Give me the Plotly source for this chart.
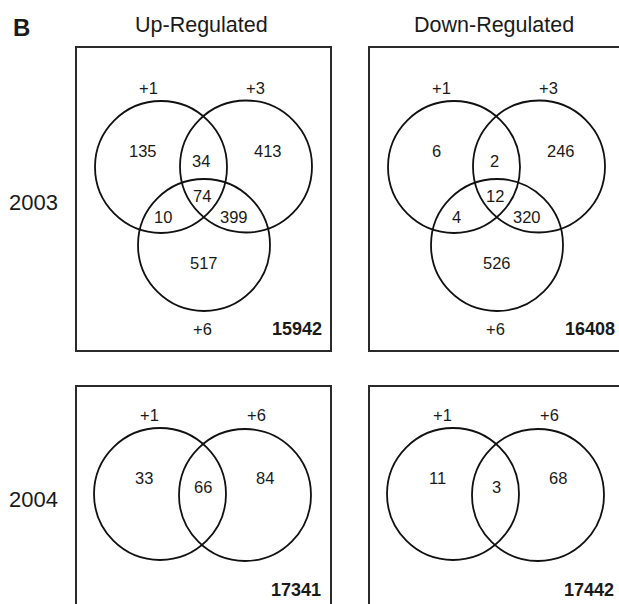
import plotly.graph_objects as go

# ---- data ----
columns = ["Up-Regulated", "Down-Regulated"]
years = ["2003", "2004"]
sets_2003 = ["+1", "+3", "+6"]
sets_2004 = ["+1", "+6"]
# region order: only1, 1&3, only3, all, 1&6, 3&6, only6
up_2003 = [135, 34, 413, 74, 10, 399, 517]
down_2003 = [6, 2, 246, 12, 4, 320, 526]
# region order: only1, 1&6, only6
up_2004 = [33, 66, 84]
down_2004 = [11, 3, 68]
totals_2003 = [15942, 16408]
totals_2004 = [17341, 17442]

# ---- layout geometry (pixels) ----
W, H = 619, 604
col_x = [76, 369]
row_y = [47, 386]
box_w = 255
box_h = [304, 240]
R = 66
FONT = "Liberation Sans, Arial, sans-serif"
TXT = "#1a1a1a"

circ3 = [(85, 120), (170, 119.5), (128, 198)]
set3_lbl = [(72, 41), (179, 41), (126, 282)]
reg3_pos = [(67, 104), (125, 114), (192, 104), (126, 149), (87, 170), (158, 170), (128, 216)]
circ2 = [(84, 108), (169, 109)]
set2_lbl = [(73, 29), (180, 29)]
reg2_pos = [(68, 92), (127, 101), (189, 92)]
tot_pos = [(221, 282), (220, 204)]

fig = go.Figure()
shapes = []
ann = []

def add_text(x, y, t, size, bold=False):
    ann.append(dict(x=x, y=y, text=f"<b>{t}</b>" if bold else t, showarrow=False,
                    xref="x", yref="y", xanchor="center", yanchor="middle",
                    font=dict(family=FONT, size=size, color=TXT)))

panels = [
    (0, 0, circ3, set3_lbl, sets_2003, reg3_pos, up_2003, totals_2003[0]),
    (1, 0, circ3, set3_lbl, sets_2003, reg3_pos, down_2003, totals_2003[1]),
    (0, 1, circ2, set2_lbl, sets_2004, reg2_pos, up_2004, totals_2004[0]),
    (1, 1, circ2, set2_lbl, sets_2004, reg2_pos, down_2004, totals_2004[1]),
]

for ci, ri, circ, slbl, snames, rpos, vals, tot in panels:
    ox, oy = col_x[ci], row_y[ri]
    shapes.append(dict(type="rect", xref="x", yref="y", x0=ox, y0=oy,
                       x1=ox + box_w, y1=oy + box_h[ri],
                       line=dict(color="#2a2a2a", width=2)))
    for cx, cy in circ:
        shapes.append(dict(type="circle", xref="x", yref="y",
                           x0=ox + cx - R, x1=ox + cx + R, y0=oy + cy - R, y1=oy + cy + R,
                           line=dict(color="#111", width=1.8)))
    for (lx, ly), name in zip(slbl, snames):
        add_text(ox + lx, oy + ly, name, 16.5)
    for (px, py), v in zip(rpos, vals):
        add_text(ox + px, oy + py, str(v), 16.5)
    tx, ty = tot_pos[ri]
    add_text(ox + tx, oy + ty, str(tot), 18, bold=True)

# headers
for ci, name in enumerate(columns):
    add_text(col_x[ci] + 125, 25, name, 21.5)
for ri, yr in enumerate(years):
    add_text(33, [202, 499][ri], yr, 22)
add_text(21, 27, "B", 24, bold=True)

fig.add_trace(go.Scatter(x=[0, W], y=[0, H], mode="markers",
                         marker=dict(opacity=0), hoverinfo="skip", showlegend=False))
fig.update_layout(
    width=W, height=H, margin=dict(l=0, r=0, t=0, b=0),
    paper_bgcolor="white", plot_bgcolor="white",
    xaxis=dict(range=[0, W], visible=False, fixedrange=True),
    yaxis=dict(range=[H, 0], visible=False, fixedrange=True),
    shapes=shapes, annotations=ann,
)
fig.write_html("out.html", config={"displayModeBar": False},
               post_script="document.body.style.margin='0';document.body.style.overflow='hidden';")
